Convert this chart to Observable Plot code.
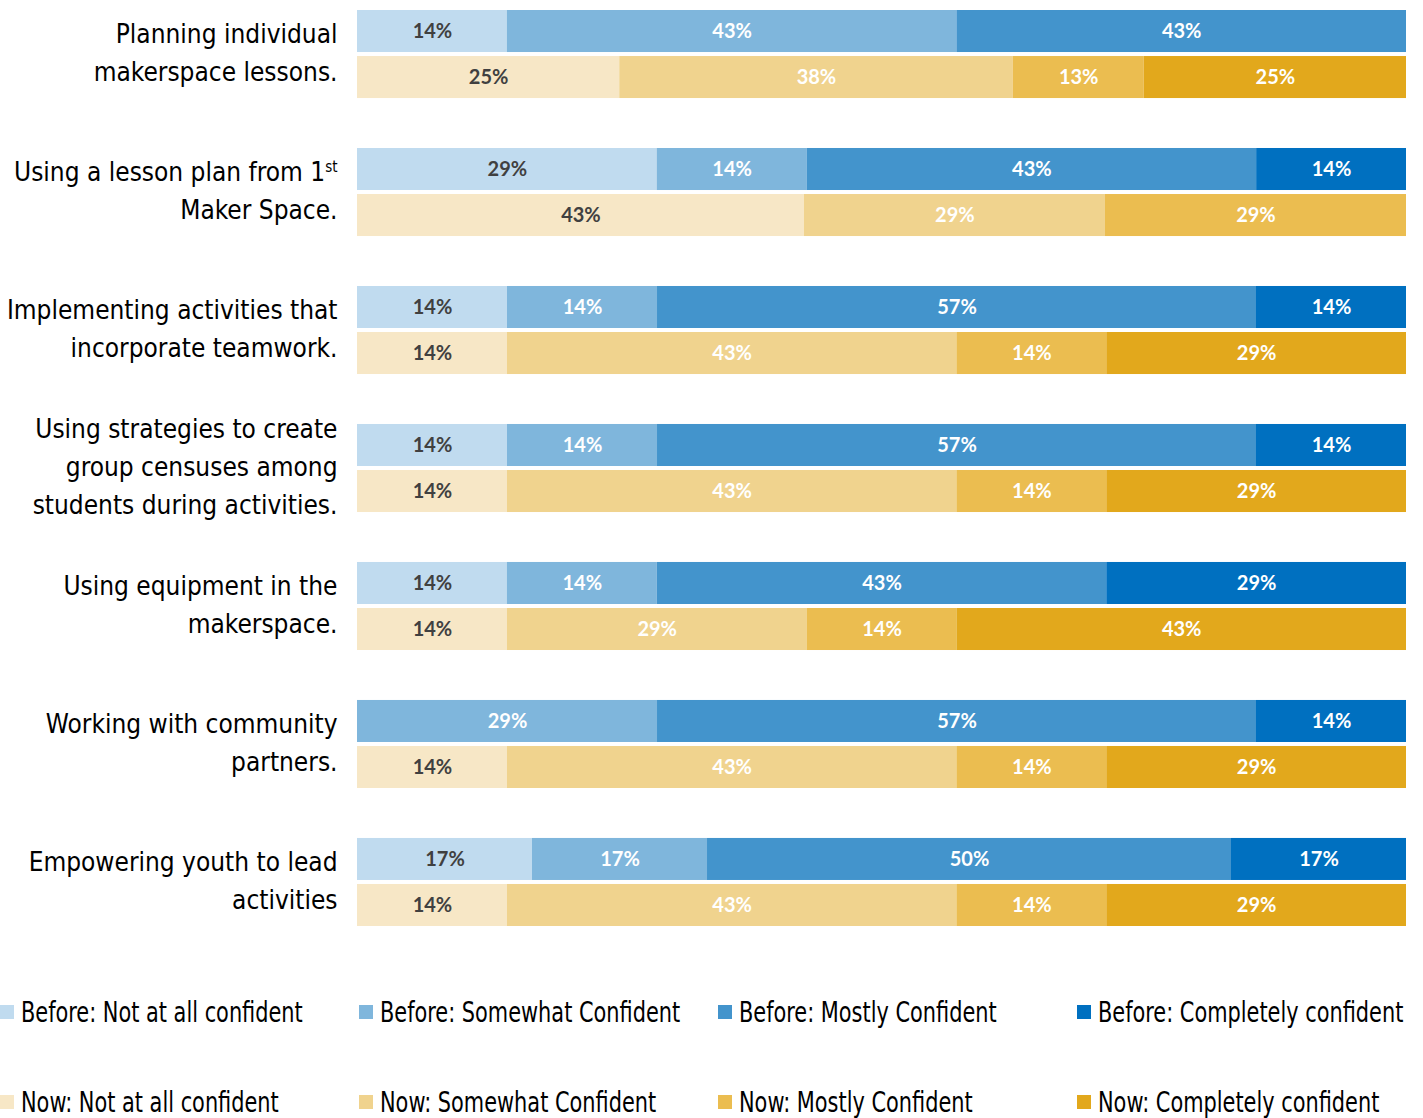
<!DOCTYPE html>
<html>
<head>
<meta charset="utf-8">
<script src="https://cdn.jsdelivr.net/npm/d3@7"></script>
<script src="https://cdn.jsdelivr.net/npm/@observablehq/plot@0.6"></script>
<style>
  html, body { margin: 0; padding: 0; background: #fff; }
  #wrap { position: relative; width: 1423px; }
  #legend { position: relative; width: 1423px; height: 178px; overflow: hidden; }
  .item { position: absolute; font-family: "DejaVu Sans Condensed", "Liberation Sans", sans-serif; font-size: 29px; line-height: 30px; color: #000; white-space: nowrap; transform: scale(0.80, 1); transform-origin: 0 50%; }
  .sw { position: absolute; width: 14px; height: 14px; }
</style>
</head>
<body>
<div id="wrap"></div>
<div id="legend"></div>
<script>
const questions = [
  "Planning individual\nmakerspace lessons.",
  "Using a lesson plan from 1st\nMaker Space.",
  "Implementing activities that\nincorporate teamwork.",
  "Using strategies to create\ngroup censuses among\nstudents during activities.",
  "Using equipment in the\nmakerspace.",
  "Working with community\npartners.",
  "Empowering youth to lead\nactivities"
];
const periods = ["Before", "Now"];
const levels = ["Not at all confident", "Somewhat Confident", "Mostly Confident", "Completely confident"];
const beforeValues = [
  [14.3, 42.9, 42.9, 0],
  [28.6, 14.3, 42.9, 14.3],
  [14.3, 14.3, 57.1, 14.3],
  [14.3, 14.3, 57.1, 14.3],
  [14.3, 14.3, 42.9, 28.6],
  [0, 28.6, 57.1, 14.3],
  [16.7, 16.7, 50, 16.7]
];
const nowValues = [
  [25, 37.5, 12.5, 25],
  [42.6, 28.7, 28.7, 0],
  [14.3, 42.9, 14.3, 28.6],
  [14.3, 42.9, 14.3, 28.6],
  [14.3, 28.6, 14.3, 42.9],
  [14.3, 42.9, 14.3, 28.6],
  [14.3, 42.9, 14.3, 28.6]
];
const beforeColors = ["#c0dbef", "#7fb6dc", "#4394cc", "#0070c0"];
const nowColors = ["#f7e7c6", "#f0d38e", "#ebbd50", "#e2a81c"];

const keys = [], colors = [];
periods.forEach((p, pi) => levels.forEach((l, li) => {
  keys.push(p + ": " + l);
  colors.push(pi === 0 ? beforeColors[li] : nowColors[li]);
}));

const rows = [];
questions.forEach((q, qi) => {
  [beforeValues, nowValues].forEach((vals, pi) => {
    vals[qi].forEach((v, li) => {
      if (v > 0) rows.push({q, period: periods[pi], level: li, key: periods[pi] + ": " + levels[li], value: v});
    });
  });
});

const labelFont = "'DejaVu Sans Condensed', 'Liberation Sans', sans-serif";

const plot = Plot.plot({
  width: 1423,
  height: 940,
  marginLeft: 357,
  marginRight: 17,
  marginTop: 10,
  marginBottom: 14,
  style: {background: "#fff", fontFamily: labelFont},
  x: {axis: null, domain: [0, 1]},
  y: {axis: null, domain: periods, paddingInner: 0.087, paddingOuter: 0, round: false},
  fy: {axis: null, domain: questions, paddingInner: 0.362, paddingOuter: 0, round: false},
  color: {domain: keys, range: colors},
  marks: [
    Plot.barX(rows, Plot.stackX({x: "value", y: "period", fy: "q", fill: "key", offset: "normalize"})),
    Plot.text(rows, Plot.stackX({
      x: "value", y: "period", fy: "q", offset: "normalize",
      text: d => Math.round(d.value) + "%",
      fill: d => d.level === 0 ? "#404040" : "#ffffff",
      fontFamily: "Lato, 'Open Sans', sans-serif",
      fontWeight: "bold",
      fontSize: 20
    })),
    Plot.text(questions, {
      fy: d => d,
      text: d => d,
      frameAnchor: "left",
      textAnchor: "end",
      lineAnchor: "middle",
      dx: -20,
      dy: -5,
      lineHeight: 1.46,
      fontSize: 26,
      fill: "#000"
    })
  ]
});

// superscript for "1st"
plot.querySelectorAll("tspan").forEach(t => {
  if (t.textContent.endsWith("1st")) {
    t.textContent = t.textContent.slice(0, -2);
    const s = document.createElementNS("http://www.w3.org/2000/svg", "tspan");
    s.textContent = "st";
    s.setAttribute("font-size", "15");
    s.setAttribute("baseline-shift", "super");
    t.appendChild(s);
  }
});
document.getElementById("wrap").appendChild(plot);

// legend
const legend = document.getElementById("legend");
const colX = [0, 359, 718, 1077];
const rowTop = [57, 147];
periods.forEach((p, pi) => levels.forEach((l, li) => {
  const sw = document.createElement("div");
  sw.className = "sw";
  sw.style.left = colX[li] + "px";
  sw.style.top = (rowTop[pi] + 8) + "px";
  sw.style.background = pi === 0 ? beforeColors[li] : nowColors[li];
  legend.appendChild(sw);
  const it = document.createElement("div");
  it.className = "item";
  it.style.left = (colX[li] + 21) + "px";
  it.style.top = rowTop[pi] + "px";
  it.textContent = p + ": " + l;
  legend.appendChild(it);
}));
</script>
</body>
</html>
